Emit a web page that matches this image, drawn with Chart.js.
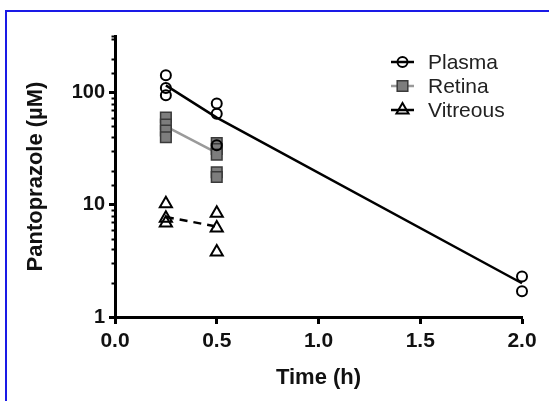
<!DOCTYPE html>
<html>
<head>
<meta charset="utf-8">
<script src="https://cdn.jsdelivr.net/npm/chart.js@4.4.0/dist/chart.umd.min.js"></script>
<style>
  html, body { margin: 0; padding: 0; background: #fff; }
  #wrap { position: relative; width: 549px; height: 401px; overflow: hidden; }
  #frame { position: absolute; left: 5px; top: 10px; right: -10px; bottom: -10px;
           border-top: 2px solid #1a1ae6; border-left: 2px solid #1a1ae6; pointer-events: none; }
  canvas { position: absolute; left: 0; top: 0; }
</style>
</head>
<body>
<div id="wrap">
  <canvas id="myChart" width="549" height="401"></canvas>
  <div id="frame"></div>
</div>
<script>
var plasmaTimes = [0.25, 0.25, 0.25, 0.5, 0.5, 0.5, 2, 2];
var plasmaValues = [143, 110, 95, 80, 65, 34, 2.3, 1.7];
var retinaTimes = [0.25, 0.25, 0.25, 0.25, 0.5, 0.5, 0.5, 0.5, 0.5];
var retinaValues = [60, 52, 46, 40, 35.5, 31.5, 28, 19.5, 17.7];
var vitreousTimes = [0.25, 0.25, 0.25, 0.5, 0.5, 0.5];
var vitreousValues = [10.2, 7.6, 6.9, 8.4, 6.2, 3.8];

// mean lines
var plasmaMeanTimes = [0.25, 0.5, 2];
var plasmaMeans = [116, 60, 2.0];
var tissueMeanTimes = [0.25, 0.5];
var retinaMeans = [50, 29];
var vitreousMeans = [7.8, 6.4];

var seriesNames = ['Plasma', 'Retina', 'Vitreous'];
var yLabelled = [1, 10, 100];
var yMin = 1, yMax = 320;
var xMin = 0, xMax = 2, xStep = 0.5;

var fontFamily = 'Arial, "Liberation Sans", Helvetica, sans-serif';

function toPoints(xs, ys) {
    return xs.map(function (x, i) { return { x: x, y: ys[i] }; });
}

var datasets = [
    {
        label: seriesNames[0], data: toPoints(plasmaTimes, plasmaValues), showLine: false,
        pointStyle: 'circle', pointRadius: 5, pointBorderWidth: 2,
        pointBorderColor: '#000', pointBackgroundColor: 'rgba(0,0,0,0)',
        legendLine: '#000', legendDash: []
    },
    {
        label: seriesNames[1], data: toPoints(retinaTimes, retinaValues), showLine: false,
        pointStyle: 'rect', pointRadius: 7.5, pointBorderWidth: 1.5,
        pointBorderColor: '#3a3a3a', pointBackgroundColor: '#7d7d7d',
        legendLine: '#9a9a9a', legendDash: []
    },
    {
        label: seriesNames[2], data: toPoints(vitreousTimes, vitreousValues), showLine: false,
        pointStyle: 'triangle', pointRadius: 7, pointBorderWidth: 2,
        pointBorderColor: '#000', pointBackgroundColor: 'rgba(0,0,0,0)',
        legendLine: '#000', legendDash: []
    },
    {
        label: 'Plasma mean', data: toPoints(plasmaMeanTimes, plasmaMeans), showLine: true,
        pointRadius: 0, borderColor: '#000', borderWidth: 2.5
    },
    {
        label: 'Retina mean', data: toPoints(tissueMeanTimes, retinaMeans), showLine: true,
        pointRadius: 0, borderColor: '#9a9a9a', borderWidth: 2.5
    },
    {
        label: 'Vitreous mean', data: toPoints(tissueMeanTimes, vitreousMeans), showLine: true,
        pointRadius: 0, borderColor: '#000', borderWidth: 2.5, borderDash: [8, 6]
    }
];
datasets.forEach(function (d) { d.clip = false; });

// short minor ticks on the log axis
var minorTicks = {
    id: 'minorTicks',
    afterDraw: function (chart) {
        var s = chart.scales.y, ctx = chart.ctx;
        ctx.save();
        ctx.strokeStyle = '#000';
        ctx.lineWidth = 2;
        s.ticks.forEach(function (t) {
            if (yLabelled.indexOf(t.value) >= 0) return;
            var py = Math.round(s.getPixelForValue(t.value)) + 0.5;
            ctx.beginPath();
            ctx.moveTo(s.right - 3.5, py);
            ctx.lineTo(s.right, py);
            ctx.stroke();
        });
        ctx.restore();
    }
};

// legend inside the plot, line + marker like the original
var sideLegend = {
    id: 'sideLegend',
    afterDraw: function (chart) {
        var ctx = chart.ctx;
        var items = chart.data.datasets.filter(function (d) { return d.legendLine; });
        items.forEach(function (d, i) {
            var y = 62 + i * 24;
            ctx.save();
            ctx.strokeStyle = d.legendLine;
            ctx.lineWidth = 2.5;
            ctx.setLineDash(d.legendDash);
            ctx.beginPath();
            ctx.moveTo(391, y);
            ctx.lineTo(414, y);
            ctx.stroke();
            ctx.setLineDash([]);
            ctx.strokeStyle = d.pointBorderColor;
            ctx.fillStyle = d.pointBackgroundColor;
            ctx.lineWidth = d.pointBorderWidth;
            Chart.helpers.drawPoint(ctx, {
                pointStyle: d.pointStyle, radius: d.pointRadius,
                borderWidth: d.pointBorderWidth, rotation: 0
            }, 402.5, y);
            ctx.fillStyle = '#222';
            ctx.font = '21px ' + fontFamily;
            ctx.textBaseline = 'middle';
            ctx.textAlign = 'left';
            ctx.fillText(d.label, 428, y + 1);
            ctx.restore();
        });
    }
};

var ctx = document.getElementById('myChart').getContext('2d');
var chart = new Chart(ctx, {
    type: 'scatter',
    data: { datasets: datasets },
    plugins: [minorTicks, sideLegend],
    options: {
        responsive: false,
        animation: false,
        devicePixelRatio: 1,
        layout: { padding: { top: 36, right: 27, left: 0, bottom: 0 } },
        plugins: { legend: { display: false }, tooltip: { enabled: false } },
        scales: {
            x: {
                type: 'linear', min: xMin, max: xMax,
                afterFit: function (scale) { scale.height = 84; },
                border: { display: true, color: '#000', width: 3 },
                grid: { drawOnChartArea: false, drawTicks: true, tickLength: 7, tickWidth: 3, tickColor: '#000' },
                ticks: {
                    stepSize: xStep, padding: 5, color: '#111',
                    font: { family: fontFamily, size: 21, weight: 'bold' },
                    callback: function (v) { return v.toFixed(1); }
                },
                title: {
                    display: true, text: 'Time (h)', color: '#111',
                    font: { family: fontFamily, size: 22, weight: 'bold' },
                    padding: { top: 0, bottom: 10 }
                }
            },
            y: {
                type: 'logarithmic', min: yMin, max: yMax,
                afterFit: function (scale) { scale.width = 115; },
                border: { display: true, color: '#000', width: 3 },
                grid: {
                    drawOnChartArea: false, drawTicks: true, tickLength: 6, tickWidth: 3,
                    tickColor: function (c) {
                        return c.tick && yLabelled.indexOf(c.tick.value) >= 0 ? '#000' : 'rgba(0,0,0,0)';
                    }
                },
                ticks: {
                    autoSkip: false, padding: 4, color: '#111',
                    font: { family: fontFamily, size: 20, weight: 'bold' },
                    callback: function (v) { return yLabelled.indexOf(v) >= 0 ? String(v) : ''; }
                },
                title: {
                    display: true, text: 'Pantoprazole (µM)', color: '#111',
                    font: { family: fontFamily, size: 22, weight: 'bold' },
                    padding: { top: 23, bottom: 0 }
                }
            }
        }
    }
});
</script>
</body>
</html>
